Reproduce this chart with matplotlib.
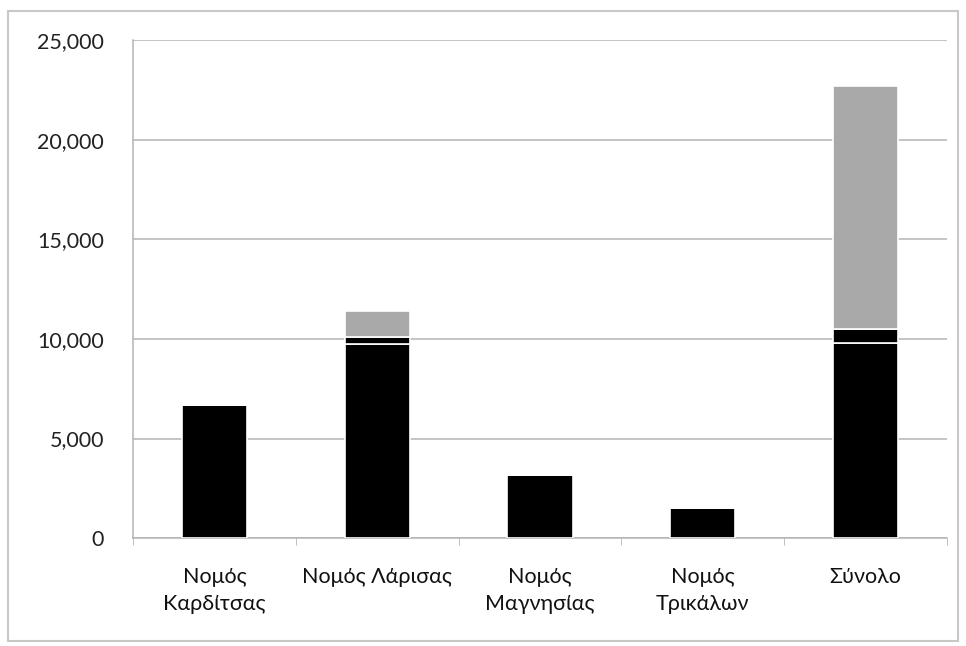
import matplotlib
matplotlib.use("Agg")
import matplotlib.pyplot as plt
from matplotlib.patches import Rectangle
from matplotlib.ticker import FuncFormatter, FixedLocator
import numpy as np

plt.rcParams['font.family'] = ['Lato', 'DejaVu Sans']

categories = ["Νομός\nΚαρδίτσας", "Νομός Λάρισας", "Νομός\nΜαγνησίας", "Νομός\nΤρικάλων", "Σύνολο"]
series_a = [6700, 9750, 3150, 1500, 9800]   # black base
series_b = [0, 350, 0, 0, 700]              # black thin segment
series_c = [0, 1300, 0, 0, 12200]           # gray top
y_ticks = [0, 5000, 10000, 15000, 20000, 25000]

fig = plt.figure(figsize=(9.66, 6.46), dpi=100)
ax = fig.add_axes([0.138, 0.167, 0.842, 0.771])

x = np.arange(len(categories))
w = 0.4
a = np.array(series_a); b = np.array(series_b); c = np.array(series_c)
ax.bar(x, a, w, color='black', edgecolor='white', linewidth=1.2, zorder=3)
ax.bar(x, b, w, bottom=a, color='black', edgecolor='white', linewidth=1.2, zorder=3)
ax.bar(x, c, w, bottom=a + b, color='#a9a9a9', edgecolor='white', linewidth=1.2, zorder=3)

ax.set_xlim(-0.5, len(categories) - 0.5)
ax.set_ylim(0, 25000)
ax.set_yticks(y_ticks)
ax.yaxis.set_major_formatter(FuncFormatter(lambda v, p: f"{int(v):,}"))
ax.grid(axis='y', color='#b4b4b4', linewidth=1.1, zorder=0)
ax.set_xticks(x)
ax.set_xticklabels(categories, fontsize=15.5, linespacing=1.45)
ax.xaxis.set_minor_locator(FixedLocator(np.arange(-0.5, len(categories), 1.0)))
ax.tick_params(axis='x', which='major', length=0, pad=21)
ax.tick_params(axis='x', which='minor', length=5, color='#b4b4b4')
ax.tick_params(axis='y', length=0, labelsize=15.5, pad=21, colors='#222222')
for lbl in ax.get_xticklabels():
    lbl.set_color('#111111')
for s in ['top', 'right']:
    ax.spines[s].set_visible(False)
ax.spines['left'].set_color('#b4b4b4')
ax.spines['bottom'].set_color('#b4b4b4')
ax.spines['left'].set_linewidth(1.1)
ax.spines['bottom'].set_linewidth(1.1)

fig.patches.append(Rectangle((0.008, 0.008), 0.984, 0.975, transform=fig.transFigure,
                             fill=False, edgecolor='#c8c8c8', linewidth=1.5))

fig.savefig("out.png", dpi=100)
